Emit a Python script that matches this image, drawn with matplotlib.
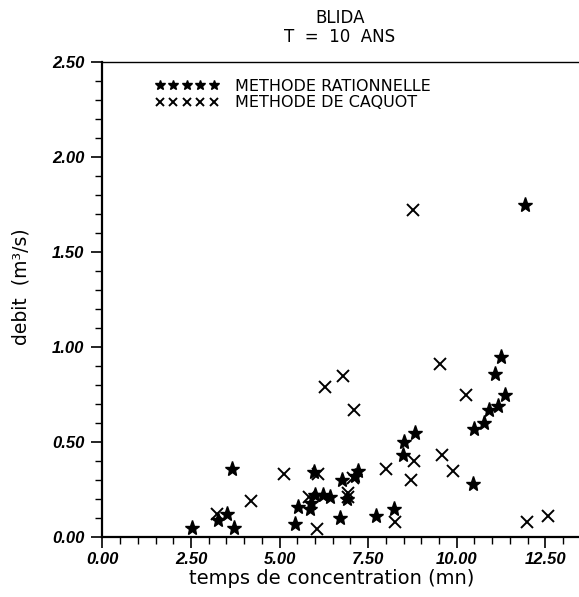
from matplotlib import pyplot as plt
from matplotlib.ticker import MultipleLocator, FormatStrFormatter

# temps de concentration (mn) / debit (m3/s)
rat_t = [2.52, 3.27, 3.51, 3.65, 3.70, 5.42, 5.53, 5.86, 5.88, 5.96, 6.00,
         6.23, 6.41, 6.70, 6.77, 6.90, 7.13, 7.20, 7.72, 8.24, 8.47, 8.51,
         8.83, 10.47, 10.48, 10.76, 10.92, 11.09, 11.15, 11.26, 11.35, 11.92]
rat_q = [0.05, 0.09, 0.12, 0.36, 0.05, 0.07, 0.16, 0.15, 0.18, 0.34, 0.22,
         0.22, 0.21, 0.10, 0.30, 0.20, 0.32, 0.35, 0.11, 0.15, 0.43, 0.50,
         0.55, 0.28, 0.57, 0.60, 0.67, 0.86, 0.69, 0.95, 0.75, 1.75]

caq_t = [3.22, 4.18, 5.13, 5.84, 6.05, 6.07, 6.27, 6.78, 6.92, 6.92, 7.08,
         7.09, 8.01, 8.27, 8.71, 8.76, 8.78, 9.53, 9.57, 9.88, 10.25, 11.98,
         12.57]
caq_q = [0.12, 0.19, 0.33, 0.21, 0.04, 0.33, 0.79, 0.85, 0.21, 0.23, 0.31,
         0.67, 0.36, 0.08, 0.30, 1.72, 0.40, 0.91, 0.43, 0.35, 0.75, 0.08,
         0.11]

fig = plt.figure(figsize=(5.79, 5.97), dpi=100)
ax = fig.add_axes([0.177, 0.1005, 0.823, 0.7955])

ax.plot(rat_t, rat_q, linestyle="none", marker="*", ms=11, color="black",
        label="METHODE RATIONNELLE")
ax.plot(caq_t, caq_q, linestyle="none", marker="x", ms=8, mew=1.4,
        color="black", label="METHODE DE CAQUOT")

ax.set_xlim(0, 13.45)
ax.set_ylim(0, 2.5)

ax.xaxis.set_major_locator(MultipleLocator(2.5))
ax.xaxis.set_minor_locator(MultipleLocator(0.5))
ax.yaxis.set_major_locator(MultipleLocator(0.5))
ax.yaxis.set_minor_locator(MultipleLocator(0.1))
ax.xaxis.set_major_formatter(FormatStrFormatter("%.2f"))
ax.yaxis.set_major_formatter(FormatStrFormatter("%.2f"))

ax.tick_params(which="major", direction="out", length=8, width=1.2)
ax.tick_params(which="minor", direction="out", length=5, width=1.0)
ax.tick_params(axis="x", pad=3)
ax.tick_params(axis="y", pad=5)
for lab in ax.get_xticklabels() + ax.get_yticklabels():
    lab.set_fontfamily("Liberation Sans")
    lab.set_fontweight("bold")
    lab.set_fontstyle("italic")
    lab.set_fontsize(12)

ax.spines["right"].set_visible(False)
for s in ("left", "bottom"):
    ax.spines[s].set_linewidth(1.6)
ax.spines["top"].set_linewidth(1.0)

ax.set_xlabel("temps de concentration (mn)", fontsize=14)
ax.set_ylabel("debit  (m³/s)", fontsize=13.5)
ax.xaxis.set_label_coords(0.48, -0.067)
ax.yaxis.set_label_coords(-0.152, 0.527)
fig.text(0.587, 0.985, "BLIDA\nT  =  10  ANS", ha="center", va="top",
         fontsize=12, linespacing=1.05)

ax.legend(loc="upper left", bbox_to_anchor=(0.11, 0.965), frameon=False,
          numpoints=5, markerscale=0.65, handlelength=4.0, handletextpad=1.0,
          labelspacing=0.1, borderpad=0, borderaxespad=0, fontsize=11.5)

fig.savefig("out.png", dpi=100)
